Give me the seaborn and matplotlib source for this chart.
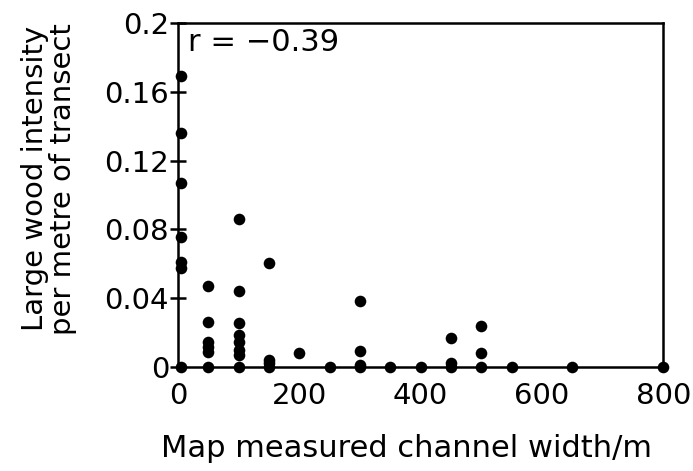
import pandas as pd
import matplotlib
matplotlib.use("Agg")
import matplotlib.pyplot as plt
import seaborn as sns

# channel width (m) and large wood intensity (per metre of transect)
width_m = [5, 5, 5, 5, 5, 5, 5,
           50, 50, 50, 50, 50, 50,
           100, 100, 100, 100, 100, 100, 100, 100,
           150, 150, 150, 150,
           200, 250,
           300, 300, 300, 300,
           350, 400,
           450, 450, 450,
           500, 500, 500,
           550, 650, 800]
wood_intensity = [0.169, 0.136, 0.107, 0.0757, 0.061, 0.0575, 0.0,
                  0.047, 0.026, 0.0144, 0.0118, 0.0089, 0.0,
                  0.086, 0.0444, 0.0254, 0.0186, 0.0147, 0.0099, 0.007, 0.0,
                  0.0606, 0.004, 0.002, 0.0,
                  0.008, 0.0,
                  0.0384, 0.009, 0.001, 0.0,
                  0.0, 0.0,
                  0.017, 0.002, 0.0,
                  0.0238, 0.0083, 0.0,
                  0.0, 0.0, 0.0]

df = pd.DataFrame({'width': width_m, 'intensity': wood_intensity})

sns.set_style("white")
plt.rcParams['font.family'] = ['DejaVu Sans']
plt.rcParams['text.color'] = 'black'
plt.rcParams['axes.labelcolor'] = 'black'
plt.rcParams['xtick.color'] = 'black'
plt.rcParams['ytick.color'] = 'black'

fig = plt.figure(figsize=(6.93, 4.71), dpi=100)
ax = fig.add_axes([0.257, 0.221, 0.700, 0.730])

sns.scatterplot(data=df, x='width', y='intensity', color='black', s=70,
                edgecolor='black', linewidth=0, ax=ax, clip_on=False, zorder=3)

ax.set_xlim(0, 800)
ax.set_ylim(0, 0.2)
ax.set_xticks([0, 200, 400, 600, 800])
ax.set_xticklabels(['0', '200', '400', '600', '800'])
ax.set_yticks([0, 0.04, 0.08, 0.12, 0.16, 0.2])
ax.set_yticklabels(['0', '0.04', '0.08', '0.12', '0.16', '0.2'])
ax.tick_params(axis='x', bottom=False, length=0, pad=11, labelsize=21)
ax.tick_params(axis='y', left=True, direction='inout', length=11, width=1.8,
               pad=1, labelsize=21)

for sp in ax.spines.values():
    sp.set_linewidth(1.8)
    sp.set_color('black')

ax.set_xlabel('Map measured channel width/m', fontsize=22)
ax.xaxis.set_label_coords(0.47, -0.195)
ax.set_ylabel('Large wood intensity\nper metre of transect', fontsize=21,
              linespacing=1.0)
ax.yaxis.set_label_coords(-0.208, 0.547)
ax.text(0.02, 0.985, 'r = \u22120.39', transform=ax.transAxes, fontsize=22,
        ha='left', va='top')

plt.savefig('out.png', dpi=100)
